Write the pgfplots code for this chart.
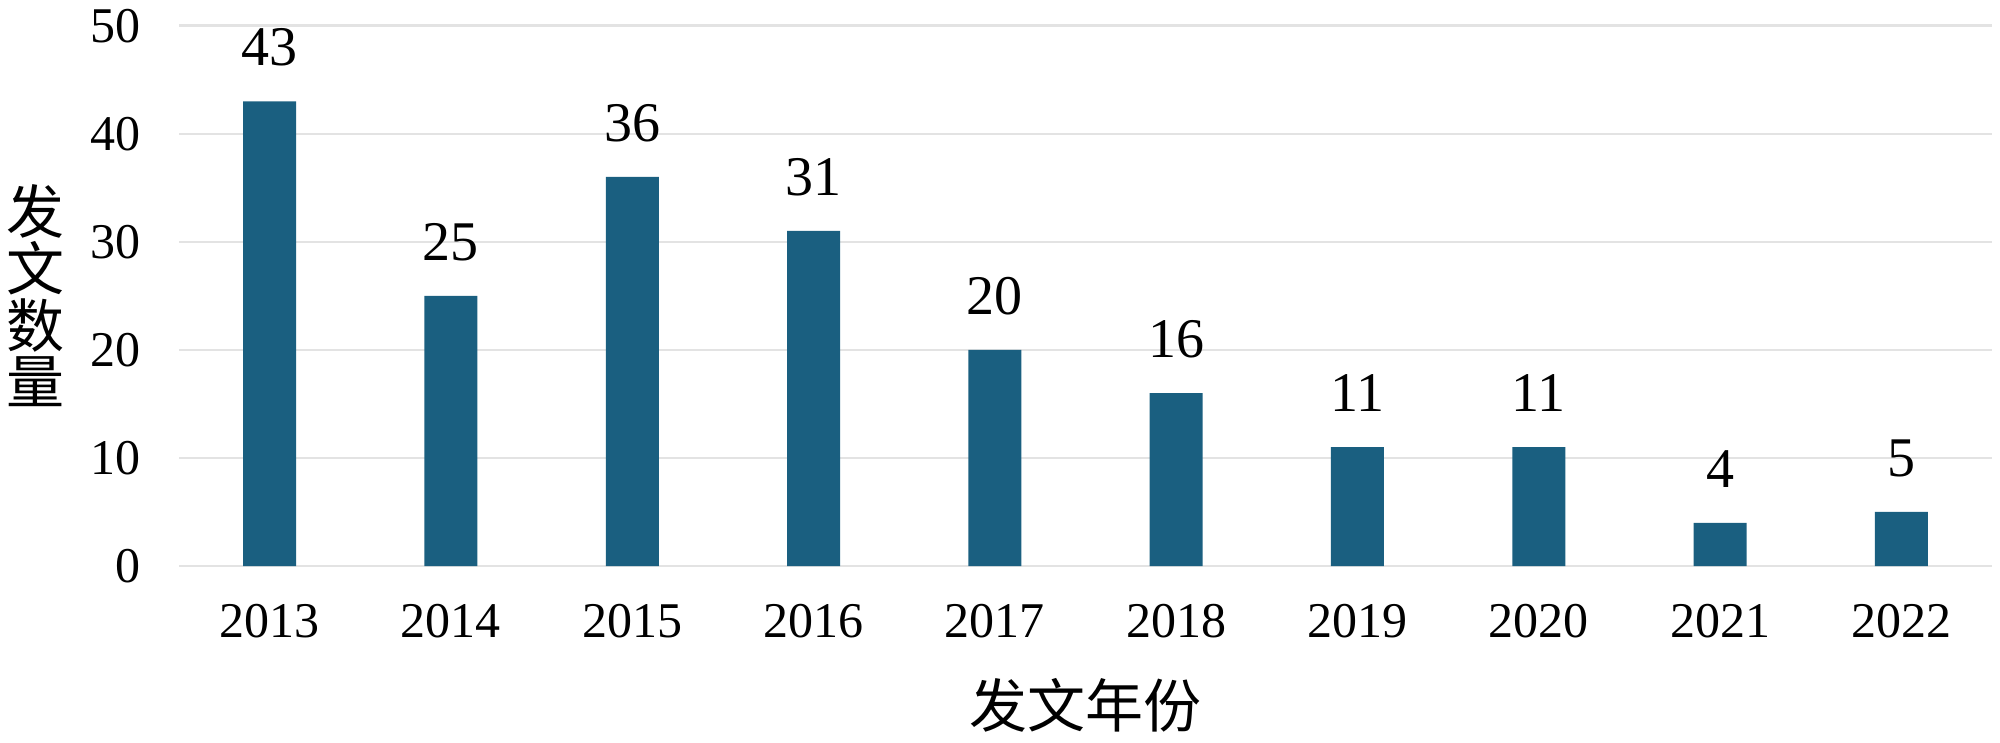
\documentclass[border=0pt]{standalone}
\usepackage{fontspec}
\setmainfont{Liberation Serif}
\newfontfamily\cjk{Noto Sans CJK SC}
\usepackage{pgfplots}
\pgfplotsset{compat=1.18}
\definecolor{barblue}{HTML}{1A5F80}
\definecolor{gridgray}{HTML}{E3E3E3}
\begin{document}
\begin{tikzpicture}
\useasboundingbox (-44.75pt,-44pt) rectangle (455.25pt,141.5pt);
\begin{axis}[
  at={(0,0)}, anchor=south west,
  scale only axis, width=453.25pt, height=135.1pt,
  xmin=-0.5, xmax=9.5, ymin=0, ymax=50,
  xtick={0,...,9},
  xticklabels={2013,2014,2015,2016,2017,2018,2019,2020,2021,2022},
  ytick={0,10,20,30,40,50},
  axis line style={draw=none},
  major tick length=0pt,
  ymajorgrids, grid style={gridgray, line width=0.6pt},
  /pgf/number format/assume math mode=true,
  ticklabel style={font=\fontsize{12.5}{14}\selectfont},
  yticklabel style={xshift=-6pt},
  xticklabel style={yshift=-6pt},
  xlabel={发文年份},
  xlabel style={font=\cjk\fontsize{14.5}{16}\selectfont, at={(axis description cs:0.5,0)}, anchor=center, yshift=-34.75pt},
  ylabel={发\\文\\数\\量},
  ylabel style={rotate=-90, align=center, font=\cjk\fontsize{14.5}{14.2}\selectfont, at={(axis description cs:0,0.5)}, anchor=center, xshift=-35.75pt},
  nodes near coords,
  nodes near coords style={font=\fontsize{14}{16}\selectfont, anchor=center, yshift=13.5pt},
]
\addplot[ybar, bar width=13.25pt, fill=barblue, draw=none] coordinates {
(0,43) (1,25) (2,36) (3,31) (4,20) (5,16) (6,11) (7,11) (8,4) (9,5)
};
\end{axis}
\end{tikzpicture}
\end{document}
